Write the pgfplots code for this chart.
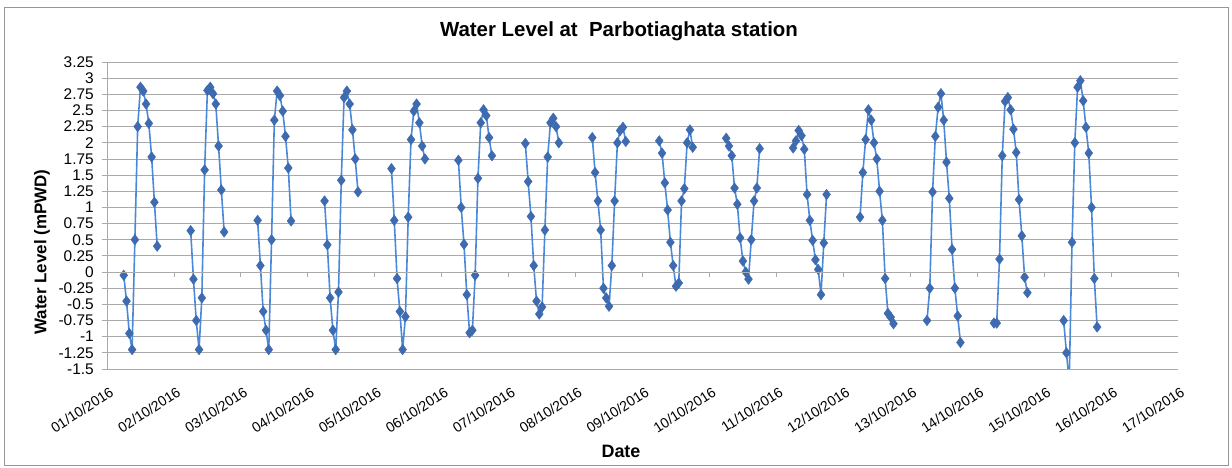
\documentclass[border=0pt]{standalone}
\usepackage{fontspec}
\setmainfont{Liberation Sans}
\usepackage{pgfplots}
\usepackage{pgfplotstable}
\pgfplotsset{compat=1.18}
\definecolor{gridgray}{RGB}{170,170,170}
\definecolor{bordergray}{RGB}{150,150,150}
\definecolor{linecol}{RGB}{74,136,218}
\definecolor{markcol}{RGB}{62,106,176}

\pgfplotstableread{
d h y
0 6 -0.05
0 7 -0.45
0 8 -0.95
0 9 -1.2
0 10 0.5
0 11 2.25
0 12 2.86
0 13 2.8
0 14 2.6
0 15 2.3
0 16 1.78
0 17 1.08
0 18 0.4
0 20 nan
1 6 0.64
1 7 -0.11
1 8 -0.75
1 9 -1.2
1 10 -0.4
1 11 1.58
1 12 2.81
1 13 2.86
1 14 2.76
1 15 2.6
1 16 1.95
1 17 1.27
1 18 0.62
1 20 nan
2 6 0.8
2 7 0.1
2 8 -0.61
2 9 -0.9
2 10 -1.2
2 11 0.5
2 12 2.35
2 13 2.8
2 14 2.73
2 15 2.49
2 16 2.1
2 17 1.61
2 18 0.79
2 20 nan
3 6 1.1
3 7 0.42
3 8 -0.4
3 9 -0.9
3 10 -1.2
3 11 -0.31
3 12 1.42
3 13 2.7
3 14 2.8
3 15 2.6
3 16 2.2
3 17 1.75
3 18 1.24
3 20 nan
4 6 1.6
4 7 0.8
4 8 -0.1
4 9 -0.61
4 10 -1.2
4 11 -0.69
4 12 0.85
4 13 2.05
4 14 2.49
4 15 2.6
4 16 2.31
4 17 1.95
4 18 1.75
4 20 nan
5 6 1.73
5 7 1.0
5 8 0.43
5 9 -0.35
5 10 -0.94
5 11 -0.9
5 12 -0.05
5 13 1.45
5 14 2.31
5 15 2.51
5 16 2.42
5 17 2.08
5 18 1.8
5 20 nan
6 6 1.99
6 7 1.4
6 8 0.86
6 9 0.1
6 10 -0.45
6 11 -0.65
6 12 -0.54
6 13 0.65
6 14 1.78
6 15 2.31
6 16 2.38
6 17 2.25
6 18 2.0
6 20 nan
7 6 2.08
7 7 1.54
7 8 1.1
7 9 0.65
7 10 -0.25
7 11 -0.4
7 12 -0.53
7 13 0.1
7 14 1.1
7 15 2.0
7 16 2.19
7 17 2.24
7 18 2.02
7 20 nan
8 6 2.03
8 7 1.84
8 8 1.38
8 9 0.96
8 10 0.46
8 11 0.1
8 12 -0.22
8 13 -0.17
8 14 1.1
8 15 1.29
8 16 2.0
8 17 2.2
8 18 1.93
8 20 nan
9 6 2.07
9 7 1.95
9 8 1.8
9 9 1.3
9 10 1.05
9 11 0.53
9 12 0.17
9 13 0.0
9 14 -0.11
9 15 0.5
9 16 1.1
9 17 1.3
9 18 1.91
9 20 nan
10 6 1.92
10 7 2.03
10 8 2.19
10 9 2.11
10 10 1.9
10 11 1.2
10 12 0.8
10 13 0.49
10 14 0.19
10 15 0.04
10 16 -0.35
10 17 0.45
10 18 1.2
10 20 nan
11 6 0.85
11 7 1.54
11 8 2.05
11 9 2.51
11 10 2.35
11 11 2.0
11 12 1.75
11 13 1.25
11 14 0.8
11 15 -0.1
11 16 -0.64
11 17 -0.7
11 18 -0.8
11 20 nan
12 6 -0.75
12 7 -0.25
12 8 1.24
12 9 2.1
12 10 2.55
12 11 2.76
12 12 2.35
12 13 1.7
12 14 1.14
12 15 0.35
12 16 -0.25
12 17 -0.68
12 18 -1.09
12 20 nan
13 6 -0.79
13 7 -0.79
13 8 0.2
13 9 1.8
13 10 2.64
13 11 2.7
13 12 2.51
13 13 2.21
13 14 1.85
13 15 1.12
13 16 0.56
13 17 -0.08
13 18 -0.32
13 20 nan
14 7 -0.75
14 8 -1.25
14 9 -1.7
14 10 0.46
14 11 2.0
14 12 2.86
14 13 2.96
14 14 2.65
14 15 2.24
14 16 1.84
14 17 1.0
14 18 -0.1
14 19 -0.85
}\wl

\begin{document}
\begin{tikzpicture}[x=1bp,y=1bp]
\path[use as bounding box] (0,0) rectangle (1232,468);
\draw[bordergray, line width=1bp] (4,2) rectangle (1228,460);
\begin{axis}[
  at={(107bp,99bp)}, anchor=south west,
  scale only axis, width=1071bp, height=307bp,
  xmin=0, xmax=16, ymin=-1.5, ymax=3.25,
  axis lines*=left,
  axis line style={-},
  x axis line style={draw=none},
  y axis line style={draw=gridgray, line width=0.8bp},
  ymajorgrids,
  grid style={gridgray, line width=0.8bp},
  ytick={-1.5,-1.25,-1,-0.75,-0.5,-0.25,0,0.25,0.5,0.75,1,1.25,1.5,1.75,2,2.25,2.5,2.75,3,3.25},
  yticklabels={-1.5,-1.25,-1,-0.75,-0.5,-0.25,0,0.25,0.5,0.75,1,1.25,1.5,1.75,2,2.25,2.5,2.75,3,3.25},
  ytick style={draw=gridgray, line width=0.8bp},
  tick align=outside,
  major tick length=5bp,
  yticklabel style={font=\fontsize{15.5}{16}\selectfont, inner sep=0pt, xshift=-8bp},
  xtick={0,1,2,3,4,5,6,7,8,9,10,11,12,13,14,15,16},
  xticklabels={01/10/2016,02/10/2016,03/10/2016,04/10/2016,05/10/2016,06/10/2016,07/10/2016,08/10/2016,09/10/2016,10/10/2016,11/10/2016,12/10/2016,13/10/2016,14/10/2016,15/10/2016,16/10/2016,17/10/2016},
  xtick style={draw=none},
  xticklabel style={font=\fontsize{14.2}{15}\selectfont, inner sep=0pt, anchor=north east, yshift=-12bp, xshift=2bp, rotate=33},
  /pgf/number format/assume math mode=true,
  unbounded coords=jump,
  clip=true,
]
\addplot[color=linecol, line width=1.6bp, mark=diamond*, mark size=5.2bp,
  mark options={fill=markcol, draw=markcol, line width=0.5bp}]
  table[x expr=\thisrow{d}+\thisrow{h}/24, y=y] {\wl};
\end{axis}
\begin{axis}[
  at={(107bp,99bp)}, anchor=south west,
  scale only axis, width=1071bp, height=307bp,
  xmin=0, xmax=16, ymin=-1.5, ymax=3.25,
  axis x line=middle, axis y line=none,
  axis line style={-, draw=gridgray, line width=0.8bp},
  xtick={0,1,2,3,4,5,6,7,8,9,10,11,12,13,14,15,16},
  xticklabels={},
  xtick style={draw=gridgray, line width=0.8bp, yshift=-2.5bp},
  major tick length=5bp,
]
\end{axis}
\node[font=\bfseries\fontsize{20.5}{22}\selectfont] at (619,437) {Water Level at\ \ Parbotiaghata station};
\node[font=\bfseries\fontsize{17}{18}\selectfont, rotate=90] at (42,216) {Water Level (mPWD)};
\node[font=\bfseries\fontsize{18}{19}\selectfont] at (621,17) {Date};
\end{tikzpicture}
\end{document}
